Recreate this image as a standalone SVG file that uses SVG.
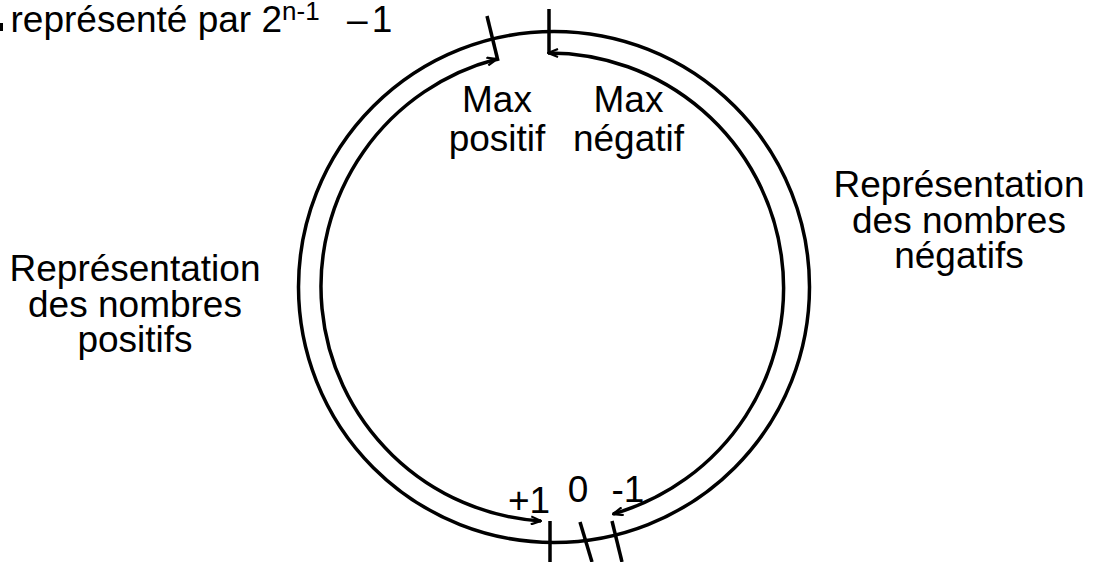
<svg xmlns="http://www.w3.org/2000/svg" width="1093" height="562" viewBox="0 0 1093 562">
<style>
text{font-family:"Liberation Sans",Arial,sans-serif;font-size:37px;fill:#000}
.c{text-anchor:middle}
.ln{fill:none;stroke:#000;stroke-width:3.5}
</style>
<defs>
<marker id="ah" viewBox="0 0 12 10" refX="11" refY="5" markerWidth="12" markerHeight="10" markerUnits="userSpaceOnUse" orient="auto-start-reverse">
<path d="M1,1 L11,5 L1,9" fill="none" stroke="#000" stroke-width="2.2"/>
</marker>
</defs>
<rect width="1093" height="562" fill="#fff"/>
<g id="title">
<rect x="0" y="23" width="3" height="8" fill="#000"/>
<text x="10.5" y="32">représenté par 2<tspan font-size="26" dy="-12">n-1</tspan><tspan x="347" dy="12" word-spacing="-6">– 1</tspan></text>
</g>
<g id="circle">
<circle class="ln" cx="554" cy="287" r="255.5"/>
</g>
<g id="connectors">
<path class="ln" d="M541,521 A235,235 0 0 1 497,59" marker-start="url(#ah)" marker-end="url(#ah)"/>
<path class="ln" d="M548,53 A235,235 0 0 1 613,514" marker-start="url(#ah)" marker-end="url(#ah)"/>
</g>
<g id="ticks">
<line class="ln" x1="487" y1="16" x2="498" y2="61"/>
<line class="ln" x1="549" y1="9" x2="549" y2="53"/>
<line class="ln" x1="550" y1="521" x2="550" y2="562"/>
<line class="ln" x1="580" y1="522" x2="592" y2="562"/>
<line class="ln" x1="612" y1="521" x2="622" y2="562"/>
</g>
<g id="max-positif">
<text class="c" x="497" y="112">Max</text>
<text class="c" x="497" y="151">positif</text>
</g>
<g id="max-negatif">
<text class="c" x="628.5" y="112">Max</text>
<text class="c" x="628.5" y="151">négatif</text>
</g>
<g id="label-positifs">
<text class="c" x="135" y="281">Représentation</text>
<text class="c" x="135" y="317">des nombres</text>
<text class="c" x="135" y="352">positifs</text>
</g>
<g id="label-negatifs">
<text class="c" x="959" y="197">Représentation</text>
<text class="c" x="959" y="233">des nombres</text>
<text class="c" x="959" y="268">négatifs</text>
</g>
<g id="values">
<text class="c" x="529" y="513">+1</text>
<text class="c" x="578" y="502">0</text>
<text class="c" x="628" y="502">-1</text>
</g>
</svg>
